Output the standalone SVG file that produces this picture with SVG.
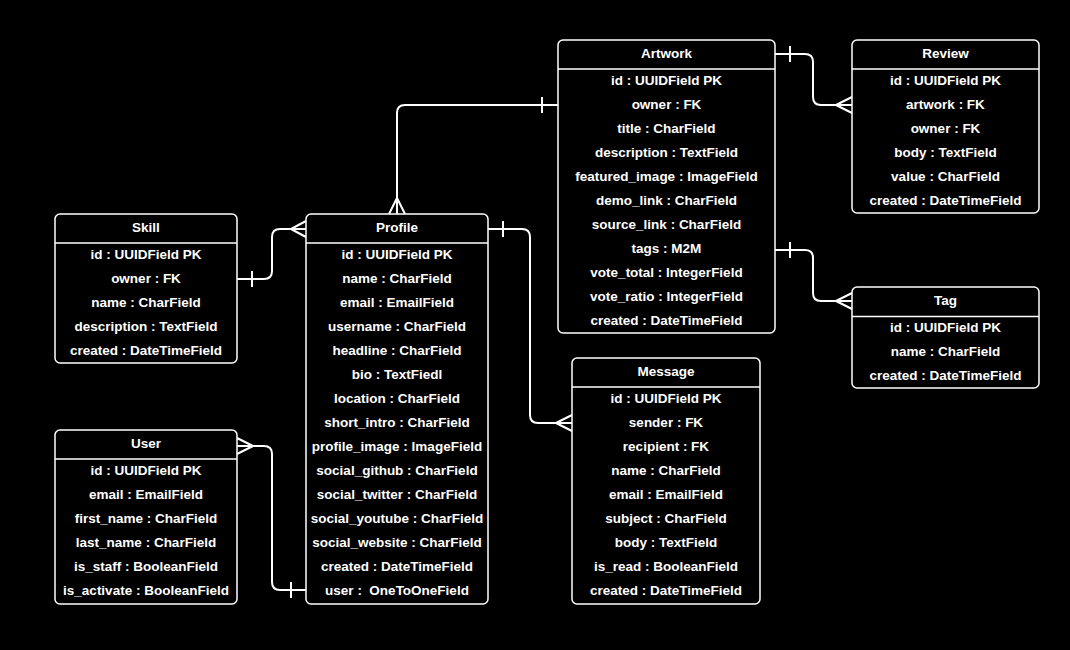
<svg xmlns="http://www.w3.org/2000/svg" width="1070" height="650" viewBox="0 0 1070 650">
<style>
.box{fill:#000;stroke:#fff;stroke-width:1.5}
.hl{stroke:#fff;stroke-width:1.5}
text{font-family:"Liberation Sans",Arial,sans-serif;font-weight:bold;font-size:13.5px;fill:#fff;text-anchor:middle}
.conn path{fill:none;stroke:#fff;stroke-width:2}
</style>
<rect x="0" y="0" width="1070" height="650" fill="#000"/>
<g class="conn" id="connectors">
<path d="M237,279 H264 Q272,279 272,271 V237 Q272,229 280,229 H306 M252,271 V287 M291,229 L306,221 M291,229 L306,237"/>
<path d="M558,105 H405 Q397,105 397,113 V214 M542,97 V113 M397,198 L389,214 M397,198 L405,214"/>
<path d="M775,54 H805 Q813,54 813,62 V97 Q813,105 821,105 H852 M790,46 V62 M836,105 L852,97 M836,105 L852,113"/>
<path d="M775,250 H805 Q813,250 813,258 V293 Q813,301 821,301 H852 M790,242 V258 M836,301 L852,293 M836,301 L852,309"/>
<path d="M488,229 H522 Q530,229 530,237 V415 Q530,423 538,423 H572 M503,221 V237 M556,423 L572,415 M556,423 L572,431"/>
<path d="M237,446 H264 Q272,446 272,454 V582 Q272,590 280,590 H306 M253,446 L237,438 M253,446 L237,454 M291,582 V598"/>
</g>
<g id="artwork">
<rect class="box" x="558" y="40" width="217" height="293" rx="5"/>
<line class="hl" x1="558" y1="69" x2="775" y2="69"/>
<text x="666.5" y="57.5">Artwork</text>
<text x="666.5" y="84.5">id : UUIDField PK</text>
<text x="666.5" y="108.5">owner : FK</text>
<text x="666.5" y="132.5">title : CharField</text>
<text x="666.5" y="156.5">description : TextField</text>
<text x="666.5" y="180.5">featured_image : ImageField</text>
<text x="666.5" y="204.5">demo_link : CharField</text>
<text x="666.5" y="228.5">source_link : CharField</text>
<text x="666.5" y="252.5">tags : M2M</text>
<text x="666.5" y="276.5">vote_total : IntegerField</text>
<text x="666.5" y="300.5">vote_ratio : IntegerField</text>
<text x="666.5" y="324.5">created : DateTimeField</text>
</g>
<g id="review">
<rect class="box" x="852" y="40" width="187" height="173" rx="5"/>
<line class="hl" x1="852" y1="69" x2="1039" y2="69"/>
<text x="945.5" y="57.5">Review</text>
<text x="945.5" y="84.5">id : UUIDField PK</text>
<text x="945.5" y="108.5">artwork : FK</text>
<text x="945.5" y="132.5">owner : FK</text>
<text x="945.5" y="156.5">body : TextField</text>
<text x="945.5" y="180.5">value : CharField</text>
<text x="945.5" y="204.5">created : DateTimeField</text>
</g>
<g id="tag">
<rect class="box" x="852" y="287" width="187" height="101" rx="5"/>
<line class="hl" x1="852" y1="316.5" x2="1039" y2="316.5"/>
<text x="945.5" y="304.5">Tag</text>
<text x="945.5" y="331.5">id : UUIDField PK</text>
<text x="945.5" y="355.5">name : CharField</text>
<text x="945.5" y="379.5">created : DateTimeField</text>
</g>
<g id="skill">
<rect class="box" x="55" y="214" width="182" height="149" rx="5"/>
<line class="hl" x1="55" y1="243" x2="237" y2="243"/>
<text x="146" y="231.5">Skill</text>
<text x="146" y="258.5">id : UUIDField PK</text>
<text x="146" y="282.5">owner : FK</text>
<text x="146" y="306.5">name : CharField</text>
<text x="146" y="330.5">description : TextField</text>
<text x="146" y="354.5">created : DateTimeField</text>
</g>
<g id="profile">
<rect class="box" x="306" y="214" width="182" height="390" rx="5"/>
<line class="hl" x1="306" y1="243" x2="488" y2="243"/>
<text x="397" y="231.5">Profile</text>
<text x="397" y="258.5">id : UUIDField PK</text>
<text x="397" y="282.5">name : CharField</text>
<text x="397" y="306.5">email : EmailField</text>
<text x="397" y="330.5">username : CharField</text>
<text x="397" y="354.5">headline : CharField</text>
<text x="397" y="378.5">bio : TextFiedl</text>
<text x="397" y="402.5">location : CharField</text>
<text x="397" y="426.5">short_intro : CharField</text>
<text x="397" y="450.5">profile_image : ImageField</text>
<text x="397" y="474.5">social_github : CharField</text>
<text x="397" y="498.5">social_twitter : CharField</text>
<text x="397" y="522.5">social_youtube : CharField</text>
<text x="397" y="546.5">social_website : CharField</text>
<text x="397" y="570.5">created : DateTimeField</text>
<text x="397" y="594.5" style="white-space:pre">user :  OneToOneField</text>
</g>
<g id="user">
<rect class="box" x="55" y="430" width="182" height="174" rx="5"/>
<line class="hl" x1="55" y1="459" x2="237" y2="459"/>
<text x="146" y="447.5">User</text>
<text x="146" y="474.5">id : UUIDField PK</text>
<text x="146" y="498.5">email : EmailField</text>
<text x="146" y="522.5">first_name : CharField</text>
<text x="146" y="546.5">last_name : CharField</text>
<text x="146" y="570.5">is_staff : BooleanField</text>
<text x="146" y="594.5">is_activate : BooleanField</text>
</g>
<g id="message">
<rect class="box" x="572" y="358" width="188" height="246" rx="5"/>
<line class="hl" x1="572" y1="387" x2="760" y2="387"/>
<text x="666" y="375.5">Message</text>
<text x="666" y="402.5">id : UUIDField PK</text>
<text x="666" y="426.5">sender : FK</text>
<text x="666" y="450.5">recipient : FK</text>
<text x="666" y="474.5">name : CharField</text>
<text x="666" y="498.5">email : EmailField</text>
<text x="666" y="522.5">subject : CharField</text>
<text x="666" y="546.5">body : TextField</text>
<text x="666" y="570.5">is_read : BooleanField</text>
<text x="666" y="594.5">created : DateTimeField</text>
</g>
</svg>
